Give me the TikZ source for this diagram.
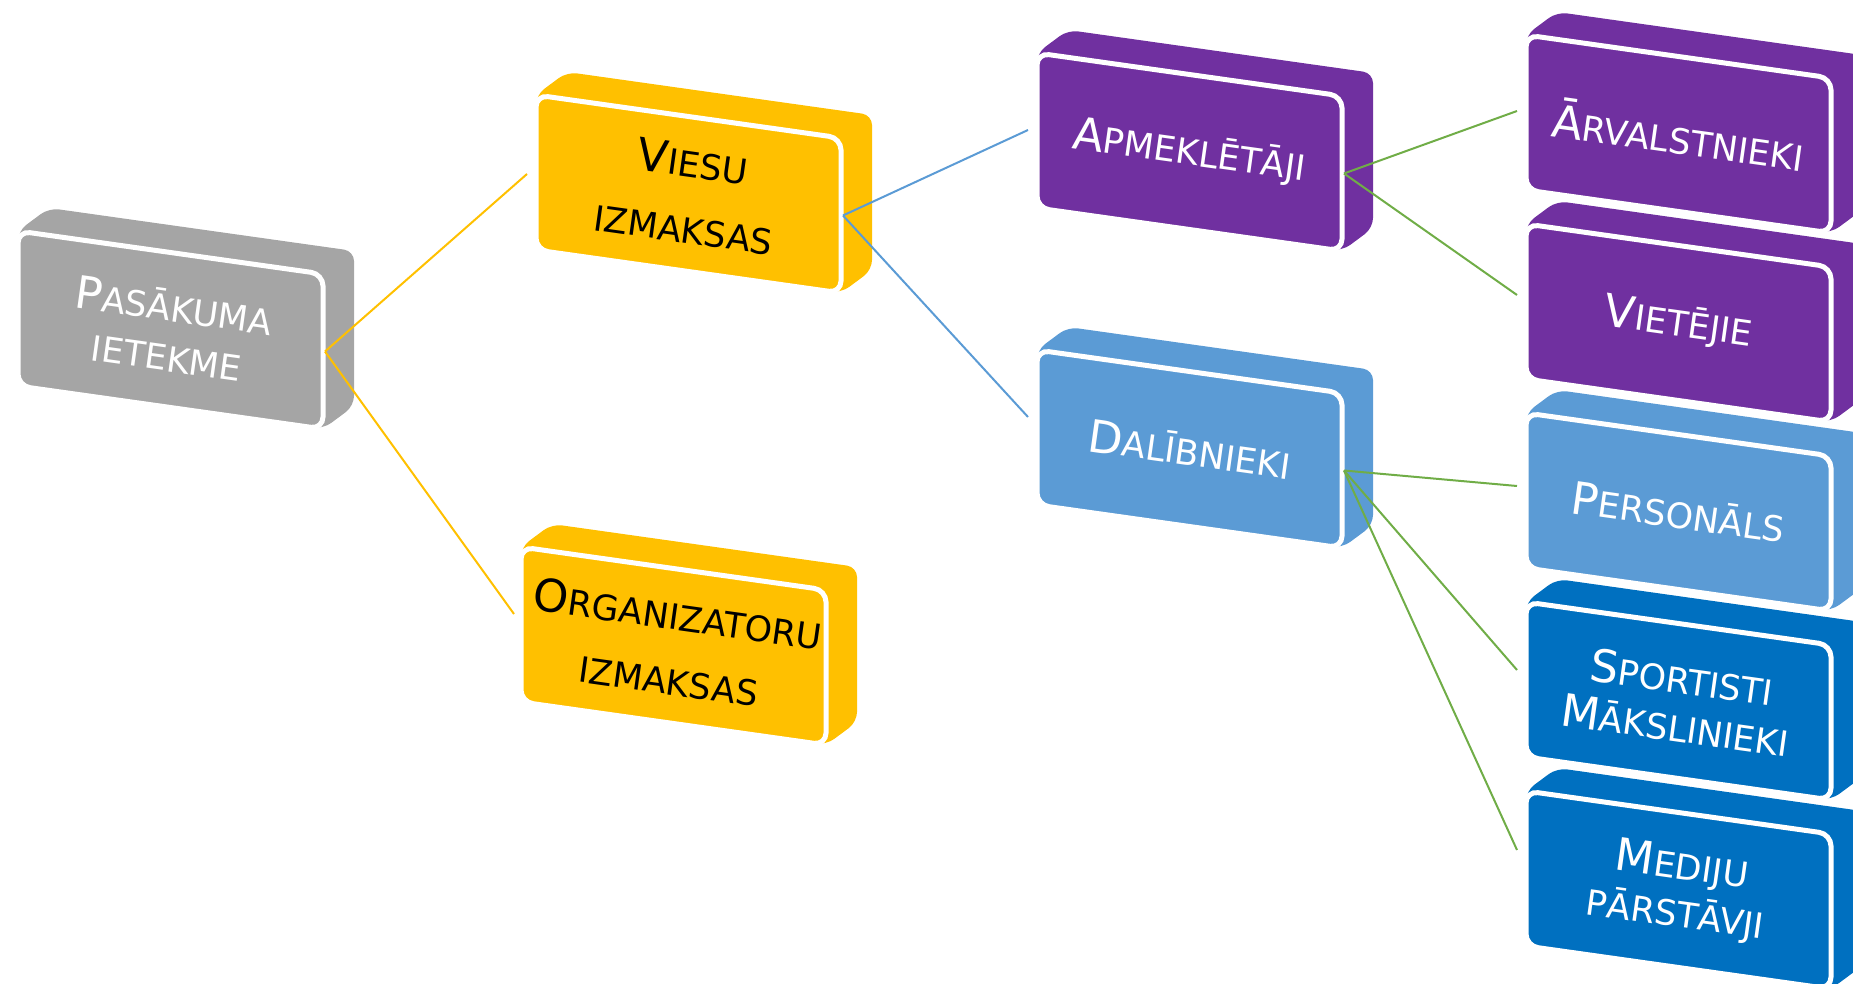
\documentclass[tikz,border=0pt]{standalone}
\usepackage{fontspec}
\setmainfont{DejaVu Sans}
\definecolor{cgrey}{HTML}{A5A5A5}
\definecolor{cyellow}{HTML}{FFC000}
\definecolor{cpurple}{HTML}{7030A0}
\definecolor{clblue}{HTML}{5B9BD5}
\definecolor{cdblue}{HTML}{0070C0}
\definecolor{cgreen}{HTML}{70AD47}
\newcommand\Ini[1]{{\fontsize{45}{50}\selectfont #1}}
\newcommand\tdbox[4]{%
  \begin{scope}[shift={(#2,#3)}]
    \fill[#4, rounded corners=10] (0,155) -- (0,0) -- (31,-23) -- (336,20) -- (336,175) -- (305,198) -- cycle;
    \filldraw[fill=#4, draw=white, line width=5, rounded corners=12] (0,0) -- (305,43) -- (305,198) -- (0,155) -- cycle;
    \coordinate (#1-c) at (152.5,99);
    \coordinate (#1-out) at (307,120.5);
  \end{scope}}
\tikzset{
  btext/.style={rotate=-8, align=center, inner sep=0pt},
  conn/.style={line width=2}
}
\begin{document}
\begin{tikzpicture}[x=1pt, y=-1pt]
\useasboundingbox (0,0) rectangle (1853,984);
\clip (0,0) rectangle (1853,984);
% boxes
\tdbox{pas}{18}{231}{cgrey}
\tdbox{vie}{536}{95}{cyellow}
\tdbox{org}{521}{547}{cyellow}
\tdbox{apm}{1037}{53}{cpurple}
\tdbox{dal}{1037}{350}{clblue}
\tdbox{med}{1526}{791}{cdblue}
\tdbox{spo}{1526}{602}{cdblue}
\tdbox{per}{1526}{413}{clblue}
\tdbox{vij}{1526}{224}{cpurple}
\tdbox{arv}{1526}{35}{cpurple}
% texts
\node[btext, text=white, font=\fontsize{35}{50}\selectfont] (pas) at (pas-c) {\Ini{P}ASĀKUMA\\IETEKME};
\node[btext, text=black, font=\fontsize{35}{66}\selectfont] (vie) at (vie-c) {\Ini{V}IESU\\IZMAKSAS};
\node[btext, text=black, font=\fontsize{35}{65}\selectfont] (org) at (org-c) {\Ini{O}RGANIZATORU\\IZMAKSAS};
\node[btext, text=white, font=\fontsize{35}{50}\selectfont] (apm) at (apm-c) {\Ini{A}PMEKLĒTĀJI};
\node[btext, text=white, font=\fontsize{35}{50}\selectfont] (dal) at (dal-c) {\Ini{D}ALĪBNIEKI};
\node[btext, text=white, font=\fontsize{35}{50}\selectfont] (arv) at (arv-c) {\Ini{Ā}RVALSTNIEKI};
\node[btext, text=white, font=\fontsize{35}{50}\selectfont] (vij) at (vij-c) {\Ini{V}IETĒJIE};
\node[btext, text=white, font=\fontsize{35}{50}\selectfont] (per) at (per-c) {\Ini{P}ERSONĀLS};
\node[btext, text=white, font=\fontsize{35}{48}\selectfont] (spo) at (spo-c) {\Ini{S}PORTISTI\\\Ini{M}ĀKSLINIEKI};
\node[btext, text=white, font=\fontsize{35}{48}\selectfont] (med) at (med-c) {\Ini{M}EDIJU\\PĀRSTĀVJI};
% connector end points
\coordinate (vie-in) at (527,174);
\coordinate (org-in) at (514,614);
\coordinate (apm-in) at (1028,130);
\coordinate (dal-in) at (1028,417);
\coordinate (arv-in) at (1517,111);
\coordinate (vij-in) at (1517,295);
\coordinate (per-in) at (1517,486);
\coordinate (spo-in) at (1517,670);
\coordinate (med-in) at (1517,850);
% connectors
\draw[conn, cyellow] (pas-out) -- (vie-in);
\draw[conn, cyellow] (pas-out) -- (org-in);
\draw[conn, clblue] (vie-out) -- (apm-in);
\draw[conn, clblue] (vie-out) -- (dal-in);
\draw[conn, cgreen] (apm-out) -- (arv-in);
\draw[conn, cgreen] (apm-out) -- (vij-in);
\draw[conn, cgreen] (dal-out) -- (per-in);
\draw[conn, cgreen] (dal-out) -- (spo-in);
\draw[conn, cgreen] (dal-out) -- (med-in);
\end{tikzpicture}
\end{document}
